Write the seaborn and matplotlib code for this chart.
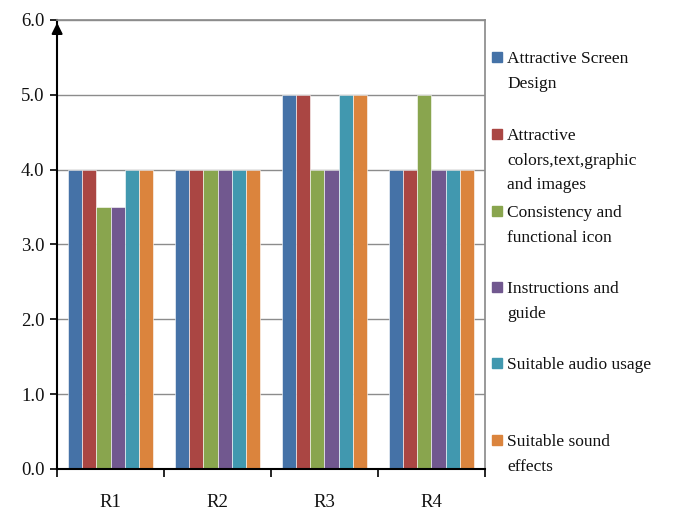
import pandas as pd
import seaborn as sns
import matplotlib.pyplot as plt
from matplotlib.patches import Rectangle
from matplotlib.ticker import FixedLocator

# Chart data
rounds = ["R1", "R2", "R3", "R4"]
criteria = [
    "Attractive Screen\nDesign",
    "Attractive\ncolors,text,graphic\nand images",
    "Consistency and\nfunctional icon",
    "Instructions and\nguide",
    "Suitable audio usage",
    "Suitable sound\neffects",
]
screen_design = [4.0, 4.0, 5.0, 4.0]
colors_text = [4.0, 4.0, 5.0, 4.0]
consistency = [3.5, 4.0, 4.0, 5.0]
instructions = [3.5, 4.0, 4.0, 4.0]
audio_usage = [4.0, 4.0, 5.0, 4.0]
sound_effects = [4.0, 4.0, 5.0, 4.0]

palette = ["#4572A7", "#AA4643", "#89A54E", "#71588F", "#4198AF", "#DB843D"]


def create_chart():
    series = [screen_design, colors_text, consistency, instructions, audio_usage, sound_effects]
    rows = []
    for name, values in zip(criteria, series):
        for r, v in zip(rounds, values):
            rows.append({"round": r, "criterion": name, "score": v})
    df = pd.DataFrame(rows)

    sns.set_theme(style="white")
    plt.rcParams["font.family"] = ["Liberation Serif", "DejaVu Serif"]

    fig = plt.figure(figsize=(6.8, 5.12), dpi=100)
    ax = fig.add_axes([0.084, 0.084, 0.629, 0.877])

    sns.barplot(
        data=df, x="round", y="score", hue="criterion",
        hue_order=criteria, order=rounds, palette=palette, saturation=1,
        width=0.8, edgecolor="white", linewidth=0.4,
        legend=False, ax=ax,
    )

    ax.set_ylim(0, 6)
    ax.set_xlim(-0.5, 3.5)
    ax.set_yticks([0, 1, 2, 3, 4, 5, 6])
    ax.set_yticklabels([f"{v:.1f}" for v in range(7)])
    ax.set_xlabel("")
    ax.set_ylabel("")

    # gridlines and frame
    ax.set_axisbelow(True)
    ax.yaxis.grid(True, color="#8c8c8c", linewidth=1)
    ax.spines["left"].set_color("black")
    ax.spines["left"].set_linewidth(1.5)
    ax.spines["bottom"].set_color("black")
    ax.spines["bottom"].set_linewidth(1.5)
    ax.spines["top"].set_color("#8c8c8c")
    ax.spines["right"].set_color("#8c8c8c")

    # ticks: y outside, x at category boundaries
    ax.tick_params(axis="y", which="major", left=True, length=5, width=1.2,
                   color="black", labelsize=13.5, pad=4, labelcolor="#111111")
    ax.tick_params(axis="x", which="major", length=0, pad=18, labelsize=13.5,
                   labelcolor="#111111")
    ax.xaxis.set_minor_locator(FixedLocator([-0.5, 0.5, 1.5, 2.5, 3.5]))
    ax.tick_params(axis="x", which="minor", bottom=True, length=6, width=1.2,
                   color="black")

    # arrow on the y axis
    ax.annotate("", xy=(0, 1.0), xytext=(0, 0.96), xycoords="axes fraction",
                arrowprops=dict(arrowstyle="-|>", color="black", lw=1.5,
                                mutation_scale=16))

    # legend drawn by hand (uneven multi-line entries, even spacing)
    W, H = 680, 512
    first_line_y = [57, 134, 211, 287, 363, 440]
    for label, color, yc in zip(criteria, palette, first_line_y):
        fig.patches.append(Rectangle((492 / W, 1 - (yc + 5) / H), 10 / W, 10 / H,
                                     transform=fig.transFigure, color=color))
        fig.text(507 / W, 1 - (yc - 6) / H, label, ha="left", va="top",
                 fontsize=12.5, linespacing=1.72, color="#111111")

    plt.savefig("out.png", dpi=100)


if __name__ == "__main__":
    create_chart()
